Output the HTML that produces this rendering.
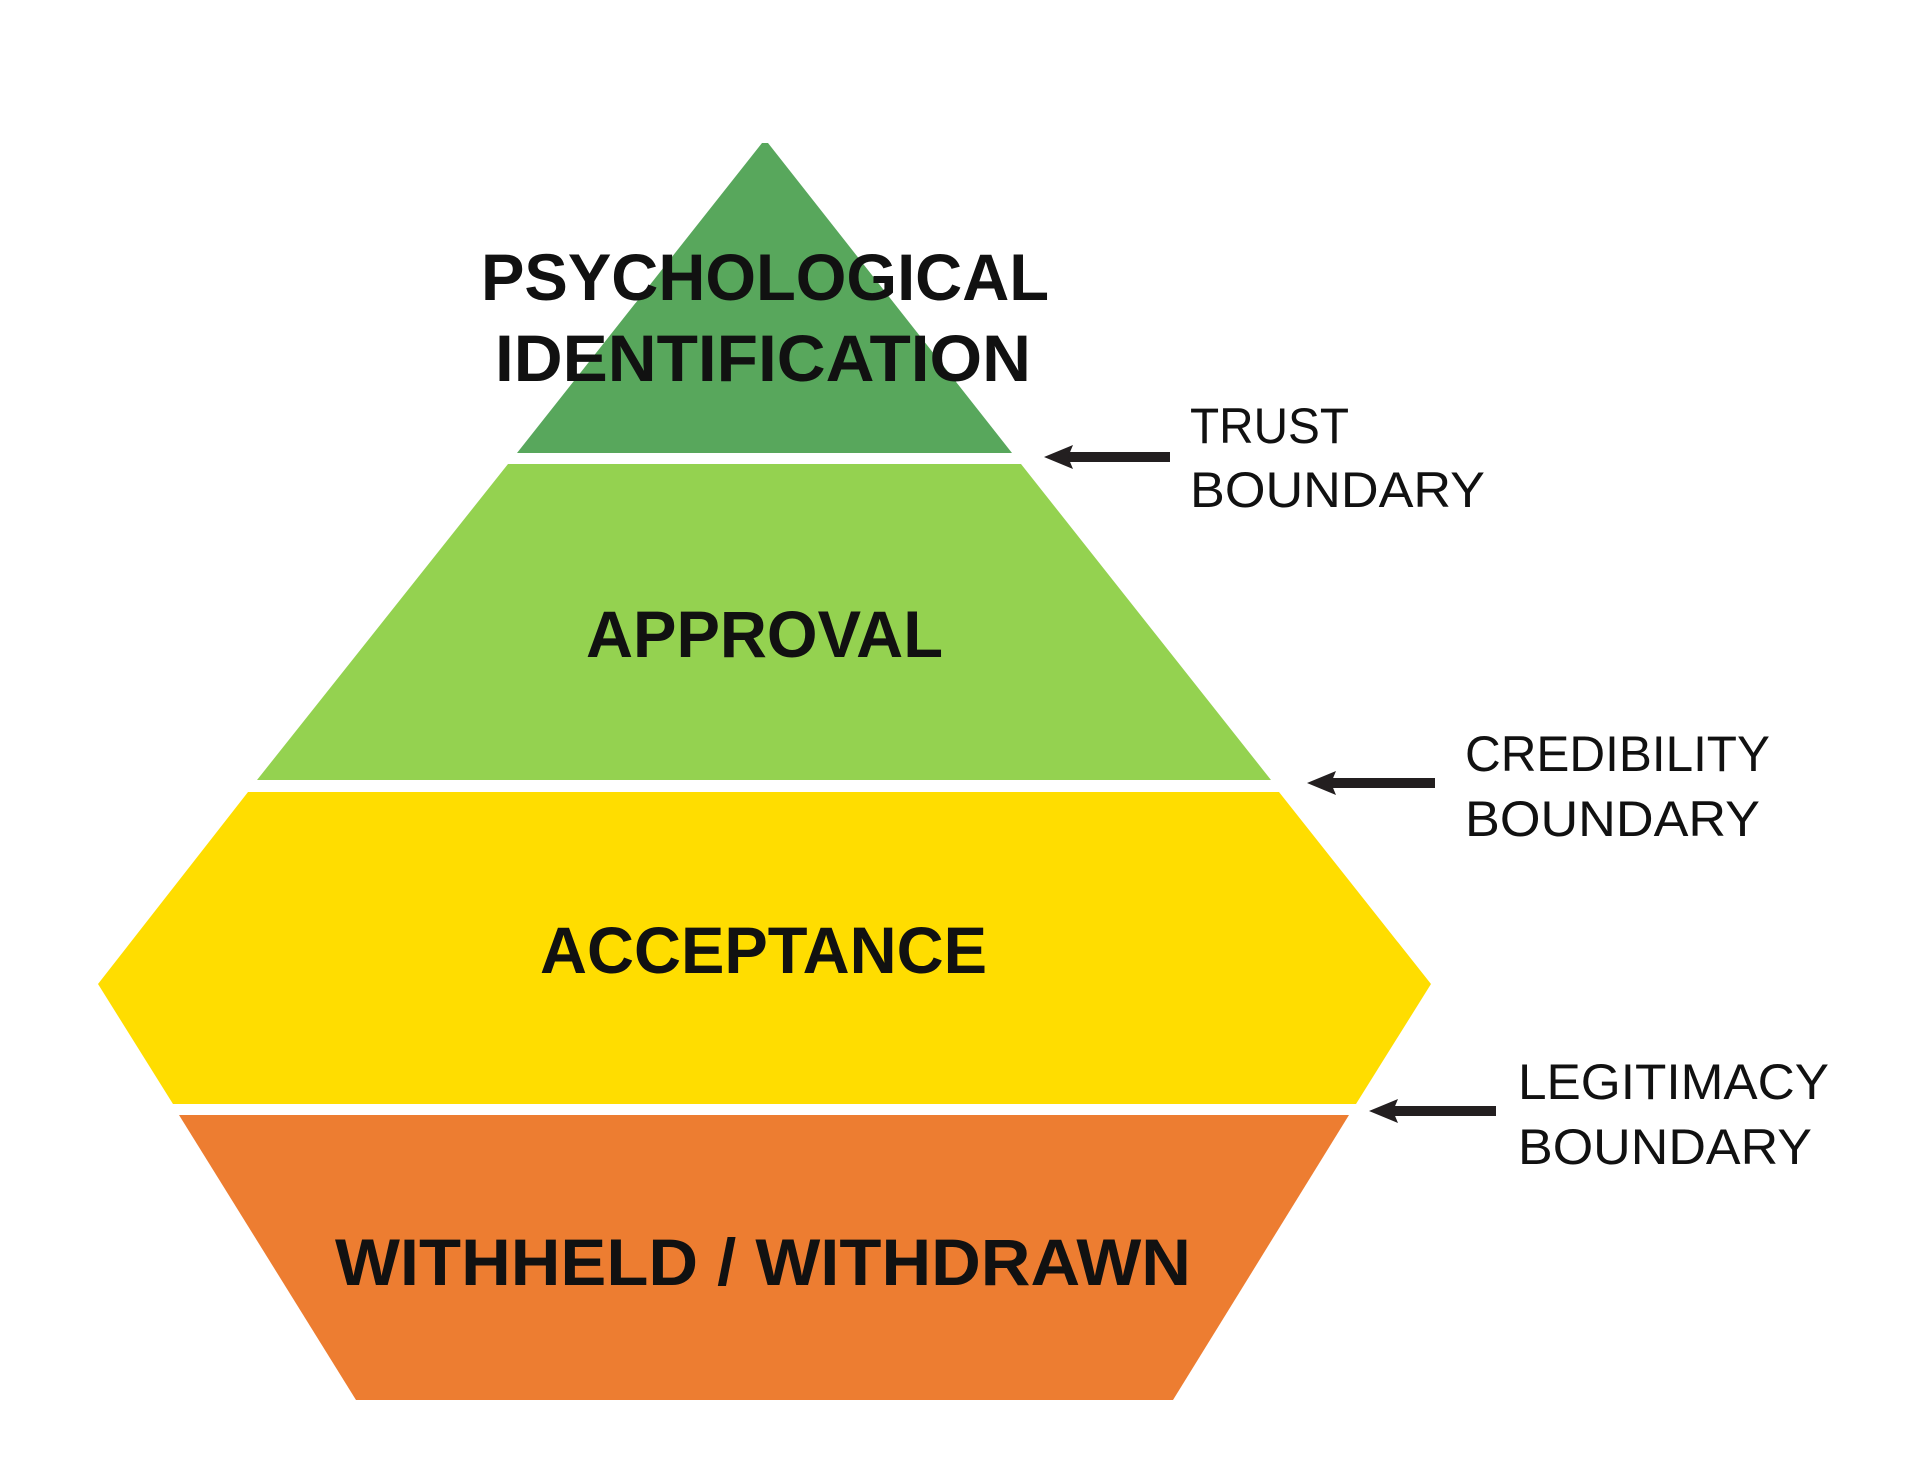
<!DOCTYPE html>
<html><head><meta charset="utf-8"><style>
html,body{margin:0;padding:0;background:#fff;}
svg{display:block;}
text{font-family:"Liberation Sans",sans-serif;}
</style></head><body>
<svg width="1920" height="1484" viewBox="0 0 1920 1484" xmlns="http://www.w3.org/2000/svg">
<rect width="1920" height="1484" fill="#fff"/>
<polygon points="762,143 768,143 1012,453 517,453" fill="#58a75c"/>
<polygon points="508,464 1021,464 1271,780 257,780" fill="#94d250"/>
<polygon points="248,792 1279,792 1431,984 1356,1104 173,1104 98,984" fill="#ffdd00"/>
<polygon points="179,1115 1349,1115 1173,1400 356,1400" fill="#ed7d31"/>
<g font-weight="bold" fill="#111" font-size="66" lengthAdjust="spacingAndGlyphs">
<text x="481" y="300" textLength="568" lengthAdjust="spacingAndGlyphs">PSYCHOLOGICAL</text>
<text x="495" y="381" textLength="536" lengthAdjust="spacingAndGlyphs">IDENTIFICATION</text>
<text x="586" y="657" textLength="357" lengthAdjust="spacingAndGlyphs">APPROVAL</text>
<text x="540" y="973" textLength="447" lengthAdjust="spacingAndGlyphs">ACCEPTANCE</text>
<text x="335" y="1285" textLength="856" lengthAdjust="spacingAndGlyphs">WITHHELD / WITHDRAWN</text>
</g>
<g fill="#111" font-size="50">
<text x="1190" y="443" textLength="159" lengthAdjust="spacingAndGlyphs">TRUST</text>
<text x="1190" y="507" textLength="295" lengthAdjust="spacingAndGlyphs">BOUNDARY</text>
<text x="1465" y="771" textLength="305" lengthAdjust="spacingAndGlyphs">CREDIBILITY</text>
<text x="1465" y="836" textLength="295" lengthAdjust="spacingAndGlyphs">BOUNDARY</text>
<text x="1518" y="1099" textLength="311" lengthAdjust="spacingAndGlyphs">LEGITIMACY</text>
<text x="1518" y="1164" textLength="294" lengthAdjust="spacingAndGlyphs">BOUNDARY</text>
</g>
<g fill="#231f20">
<rect x="1066" y="452" width="104" height="10"/>
<polygon points="1044,457 1073,445 1068,457 1073,469"/>
<rect x="1329" y="778" width="106" height="10"/>
<polygon points="1307,783 1336,771 1331,783 1336,795"/>
<rect x="1391" y="1106" width="105" height="10"/>
<polygon points="1369,1111 1398,1099 1393,1111 1398,1123"/>
</g>
</svg>
</body></html>
